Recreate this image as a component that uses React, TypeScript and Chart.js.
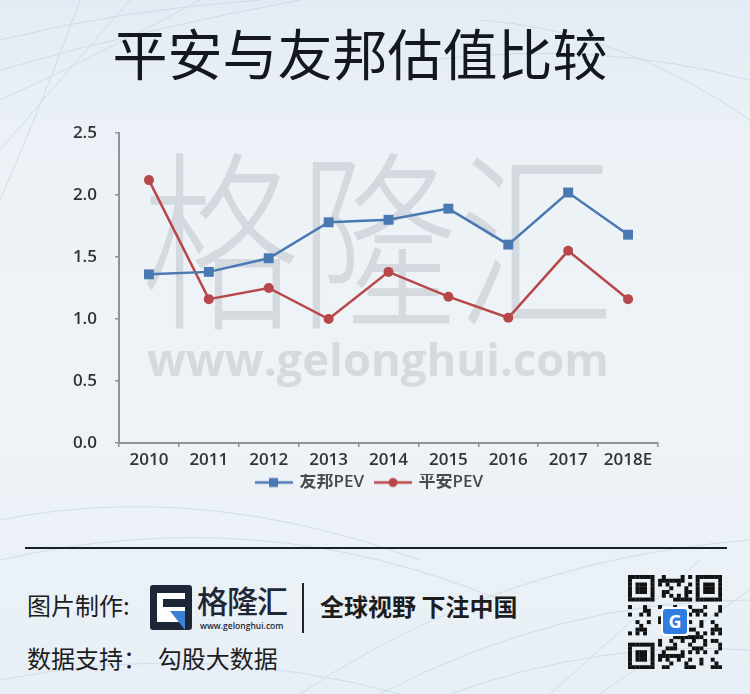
import React, { useEffect, useRef } from "react";
import { Chart, registerables } from "chart.js";

Chart.register(...registerables);

const categories = ["2010", "2011", "2012", "2013", "2014", "2015", "2016", "2017", "2018E"];
const aiaPEV = [1.36, 1.38, 1.49, 1.78, 1.8, 1.89, 1.6, 2.02, 1.68];
const pinganPEV = [2.12, 1.16, 1.25, 1.0, 1.38, 1.18, 1.01, 1.55, 1.16];
const seriesNames = ["友邦PEV", "平安PEV"];
const yTicks = [0, 0.5, 1.0, 1.5, 2.0, 2.5];

const BLUE = "#4a78b2";
const RED = "#b8474a";
const AXIS = "#8e9398";

function legendIcon(color: string, shape: "rect" | "circle") {
  // transparent lead-in gives the spacing between legend items
  const c = document.createElement("canvas");
  c.width = 50;
  c.height = 12;
  const ctx = c.getContext("2d")!;
  ctx.strokeStyle = color;
  ctx.lineWidth = 2.5;
  ctx.beginPath();
  ctx.moveTo(12, 6);
  ctx.lineTo(50, 6);
  ctx.stroke();
  ctx.fillStyle = color;
  if (shape === "rect") {
    ctx.fillRect(26, 1.5, 9, 9);
  } else {
    ctx.beginPath();
    ctx.arc(31, 6, 4.5, 0, Math.PI * 2);
    ctx.fill();
  }
  return c;
}

const watermark = {
  id: "watermark",
  beforeDatasetsDraw(chart: any) {
    const { ctx, chartArea } = chart;
    ctx.save();
    ctx.fillStyle = "rgba(140,145,150,0.26)";
    ctx.textAlign = "center";
    ctx.textBaseline = "alphabetic";
    const cx = chartArea.left + 259;
    ctx.save();
    ctx.translate(cx, chartArea.top + 181);
    ctx.scale(0.82, 1);
    ctx.font = "300 192px 'Noto Sans CJK SC'";
    ctx.fillText("格隆汇", 0, 0);
    ctx.restore();
    ctx.font = "700 48px 'Open Sans'";
    const w = ctx.measureText("www.gelonghui.com").width;
    const size = (48 * 462) / w;
    ctx.font = `700 ${size}px 'Open Sans'`;
    ctx.fillText("www.gelonghui.com", cx, chartArea.top + 243);
    ctx.restore();
  },
};

function LineChart() {
  const ref = useRef<HTMLCanvasElement>(null);
  useEffect(() => {
    const blueIcon = legendIcon(BLUE, "rect");
    const redIcon = legendIcon(RED, "circle");
    const tickFont = { family: "'Open Sans', 'Noto Sans CJK SC'", size: 17, weight: 600 as any };
    const chart = new Chart(ref.current!, {
      type: "line",
      data: {
        labels: categories,
        datasets: [
          {
            label: seriesNames[0],
            data: aiaPEV,
            borderColor: BLUE,
            backgroundColor: BLUE,
            borderWidth: 2.5,
            pointStyle: "rect",
            pointRadius: 7,
            pointBorderWidth: 0,
            tension: 0,
          },
          {
            label: seriesNames[1],
            data: pinganPEV,
            borderColor: RED,
            backgroundColor: RED,
            borderWidth: 2.5,
            pointStyle: "circle",
            pointRadius: 5,
            pointBorderWidth: 0,
            tension: 0,
          },
        ],
      },
      options: {
        animation: false,
        responsive: true,
        maintainAspectRatio: false,
        layout: { padding: { top: 23, right: 92, left: 70, bottom: 0 } },
        plugins: {
          tooltip: { enabled: false },
          legend: {
            position: "bottom",
            labels: {
              usePointStyle: true,
              pointStyleWidth: 46,
              padding: 0,
              color: "#4a4a4a",
              font: { family: "'Open Sans', 'Noto Sans CJK SC'", size: 17, weight: 600 as any },
              generateLabels: (ch: any) =>
                ch.data.datasets.map((d: any, i: number) => ({
                  text: d.label,
                  pointStyle: i === 0 ? blueIcon : redIcon,
                  fillStyle: d.borderColor,
                  strokeStyle: d.borderColor,
                  lineWidth: 0,
                  hidden: false,
                  datasetIndex: i,
                  fontColor: "#4a4a4a",
                })),
            },
          },
        },
        scales: {
          x: {
            type: "category",
            offset: true,
            grid: { offset: true, drawOnChartArea: false, drawTicks: true, tickLength: 4, color: AXIS, lineWidth: 1.5 },
            border: { display: true, color: AXIS, width: 2 },
            ticks: { color: "#333", font: { ...tickFont, lineHeight: 1 }, padding: 5, maxRotation: 0, autoSkip: false },
          },
          y: {
            min: 0,
            max: 2.5,
            afterBuildTicks: (s: any) => {
              s.ticks = yTicks.map((v) => ({ value: v }));
            },
            afterFit: (s: any) => {
              s.width = 49;
              s.paddingTop = 0;
              s.paddingBottom = 0;
            },
            grid: { drawOnChartArea: false, drawTicks: true, tickLength: 4, color: AXIS, lineWidth: 1.5 },
            border: { display: true, color: AXIS, width: 2 },
            ticks: {
              color: "#333",
              font: tickFont,
              padding: 18,
              callback: (v: any) => Number(v).toFixed(1),
            },
          },
        },
      },
      plugins: [watermark],
    });
    return () => chart.destroy();
  }, []);
  return <canvas ref={ref} />;
}

function QRCode() {
  const n = 25;
  const cells: React.ReactNode[] = [];
  const finder = (r: number, c: number) => {
    const inF = (fr: number, fc: number) => r >= fr && r < fr + 7 && c >= fc && c < fc + 7;
    const check = (fr: number, fc: number) => {
      const rr = r - fr, cc = c - fc;
      if (rr === 0 || rr === 6 || cc === 0 || cc === 6) return 1;
      if (rr >= 2 && rr <= 4 && cc >= 2 && cc <= 4) return 1;
      return 0;
    };
    if (inF(0, 0)) return check(0, 0);
    if (inF(0, n - 7)) return check(0, n - 7);
    if (inF(n - 7, 0)) return check(n - 7, 0);
    return -1;
  };
  const s = 94 / n;
  for (let r = 0; r < n; r++) {
    for (let c = 0; c < n; c++) {
      const f = finder(r, c);
      let on = false;
      if (f >= 0) on = f === 1;
      else if (r === 7 || c === 7 || (r === n - 8 && c < 8) || (c === n - 8 && r < 8)) on = false;
      else on = ((r * 7 + c * 11 + r * c * 3 + ((r * r + c) % 4)) % 5) < 2;
      if (on) cells.push(<rect key={r + "-" + c} x={c * s} y={r * s} width={s + 0.2} height={s + 0.2} fill="#111" />);
    }
  }
  return (
    <div style={{ position: "absolute", left: 628, top: 575, width: 94, height: 94 }}>
      <svg width={94} height={94} style={{ display: "block" }}>
        {cells}
        <rect x={33} y={32} width={28} height={29} rx={3} fill="#fff" />
        <rect x={35} y={34} width={24} height={25} rx={3} fill="#2f7de1" />
        <text x={47} y={53} textAnchor="middle" fontSize={18} fontWeight={700} fill="#fff" fontFamily="Open Sans">G</text>
      </svg>
    </div>
  );
}

function Decor() {
  return (
    <svg width={750} height={694} style={{ position: "absolute", left: 0, top: 0 }}>
      <g stroke="#c9d9e8" strokeWidth={1} fill="none" opacity={0.8}>
        <path d="M0 40 Q120 10 260 0" />
        <path d="M0 70 Q140 30 300 0" />
        <path d="M0 100 Q90 60 200 0" />
        <path d="M0 150 Q60 80 130 0" />
        <path d="M0 200 Q40 110 80 0" />
        <path d="M430 60 Q600 40 750 80" />
        <path d="M480 20 Q620 30 750 120" />
        <path d="M0 520 Q200 480 420 560" />
        <path d="M0 560 Q260 500 500 600" />
        <path d="M300 694 Q500 560 750 540" />
        <path d="M380 694 Q560 600 750 600" />
        <path d="M450 694 Q600 640 750 650" />
        <path d="M550 694 L700 560" />
        <path d="M600 694 L750 590" />
        <path d="M0 680 Q200 640 400 694" />
      </g>
    </svg>
  );
}

export default function App() {
  return (
    <div
      style={{
        position: "absolute",
        left: 0,
        top: 0,
        width: 750,
        height: 694,
        overflow: "hidden",
        background: "linear-gradient(180deg, #e3ecf4 0%, #edf2f7 25%, #eef3f7 60%, #e7eff6 100%)",
        fontFamily: "'Noto Sans CJK SC', sans-serif",
      }}
    >
      <Decor />
      <div
        style={{
          position: "absolute",
          left: 0,
          width: 720,
          top: 24,
          textAlign: "center",
          fontSize: 55,
          lineHeight: 1,
          fontWeight: 400,
          color: "#15171f",
        }}
      >
        平安与友邦估值比较
      </div>
      <div style={{ position: "absolute", left: 0, top: 110, width: 750, height: 391 }}>
        <LineChart />
      </div>
      <div style={{ position: "absolute", left: 25, top: 547, width: 702, height: 2, background: "#1a1f2e" }} />
      <div style={{ position: "absolute", left: 27, top: 593, fontSize: 24, lineHeight: 1, color: "#1d1d1d" }}>图片制作:</div>
      <div style={{ position: "absolute", left: 150, top: 585, width: 42, height: 45, background: "#1e2735", borderRadius: 3 }}>
        <div style={{ position: "absolute", left: 7, top: 8, width: 28, height: 29, background: "#fff" }} />
        <div style={{ position: "absolute", left: 13, top: 14, width: 22, height: 8, background: "#1e2735" }} />
        <div style={{ position: "absolute", left: 20, top: 26, width: 15, height: 19, background: "#3b82d6", clipPath: "polygon(0 0, 100% 0, 100% 100%)" }} />
      </div>
      <div style={{ position: "absolute", left: 197, top: 584, fontSize: 31, lineHeight: 1, fontWeight: 500, color: "#1e2735", letterSpacing: -1 }}>格隆汇</div>
      <div style={{ position: "absolute", left: 200, top: 622, fontSize: 8.5, lineHeight: 1, fontWeight: 600, color: "#1e2735", fontFamily: "'Open Sans'" }}>www.gelonghui.com</div>
      <div style={{ position: "absolute", left: 302, top: 583, width: 2, height: 50, background: "#222" }} />
      <div style={{ position: "absolute", left: 320, top: 594, fontSize: 24, lineHeight: 1, fontWeight: 700, color: "#1d1d1d" }}>全球视野 下注中国</div>
      <div style={{ position: "absolute", left: 27, top: 646, fontSize: 24, lineHeight: 1, color: "#1d1d1d", whiteSpace: "pre" }}>数据支持：  勾股大数据</div>
      <QRCode />
    </div>
  );
}
